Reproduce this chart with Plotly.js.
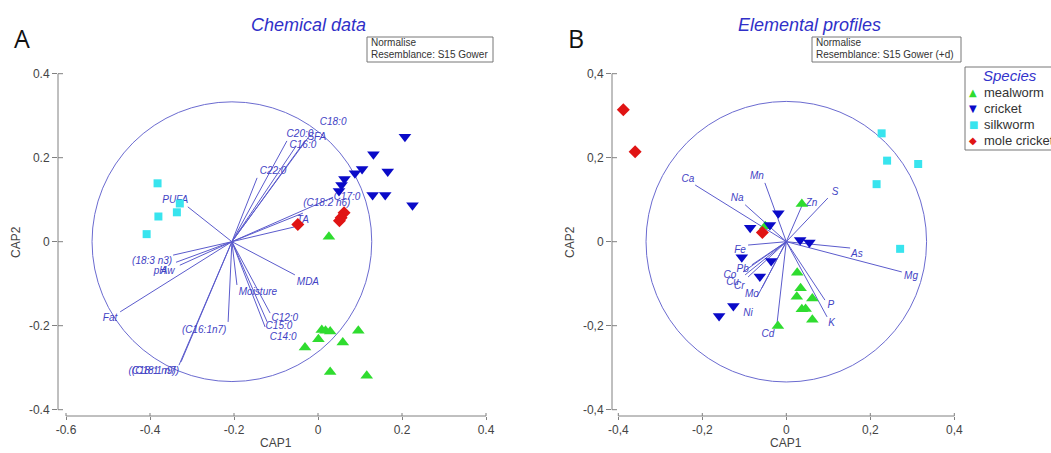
<!DOCTYPE html>
<html>
<head>
<meta charset="utf-8">
<script src="https://cdn.plot.ly/plotly-3.0.1.min.js"></script>
<style>html,body{margin:0;padding:0;background:#fff;}#chart{width:1051px;height:453px;}</style>
</head>
<body>
<div id="chart"></div>
<script>
// ---------- Panel A: chemical data ----------
const mealA_x = [0.026, -0.031, 0.001, 0.009, 0.018, 0.029, 0.059, 0.096, 0.029, 0.116];
const mealA_y = [0.012, -0.252, -0.232, -0.210, -0.212, -0.214, -0.240, -0.212, -0.310, -0.319];
const crickA_x = [0.207, 0.132, 0.166, 0.105, 0.088, 0.063, 0.056, 0.050, 0.130, 0.160, 0.225];
const crickA_y = [0.250, 0.208, 0.167, 0.173, 0.163, 0.149, 0.135, 0.121, 0.111, 0.111, 0.087];
const silkA_x = [-0.382, -0.380, -0.336, -0.329, -0.408];
const silkA_y = [0.139, 0.060, 0.070, 0.091, 0.018];
const moleA_x = [-0.048, 0.062, 0.051, 0.055];
const moleA_y = [0.041, 0.069, 0.050, 0.057];

const vecA_names = ['C18:0','C20:0','SFA','C16:0','C22:0','C17:0','(C18:2 n6)','TA','MDA','Moisture','C12:0','C15:0','C14:0','(C16:1n7)','(C18:1 n9)','(C18:1 n7)','Fat','(18:3 n3)','pH','Aw','PUFA'];
const vecA_x = [-0.019,-0.074,-0.031,-0.052,-0.145,0.036,-0.036,-0.057,-0.055,-0.193,-0.114,-0.121,-0.126,-0.214,-0.331,-0.326,-0.471,-0.345,-0.338,-0.329,-0.310];
const vecA_y = [0.254,0.240,0.240,0.228,0.152,0.106,0.068,0.035,-0.079,-0.103,-0.170,-0.191,-0.203,-0.191,-0.294,-0.286,-0.167,-0.032,-0.049,-0.056,0.083];
const labA_x = [0.036,-0.043,-0.003,-0.036,-0.107,0.069,0.021,-0.036,-0.024,-0.143,-0.079,-0.093,-0.083,-0.271,-0.395,-0.387,-0.495,-0.395,-0.376,-0.358,-0.340];
const labA_y = [0.285,0.256,0.249,0.230,0.168,0.106,0.090,0.050,-0.096,-0.122,-0.182,-0.203,-0.227,-0.212,-0.310,-0.310,-0.182,-0.046,-0.072,-0.072,0.099];
const originA = [-0.205, 0];
const circleA = {cx: -0.205, cy: 0, r: 0.333};

// ---------- Panel B: elemental profiles ----------
const mealB_x = [-0.050, 0.037, 0.026, 0.034, 0.025, 0.062, 0.037, 0.046, 0.062, -0.020];
const mealB_y = [0.037, 0.090, -0.074, -0.111, -0.131, -0.135, -0.161, -0.160, -0.186, -0.201];
const crickB_x = [-0.019, -0.086, -0.039, 0.033, 0.055, -0.106, -0.036, -0.063, -0.126, -0.160];
const crickB_y = [0.068, 0.033, 0.040, 0.004, -0.002, -0.037, -0.046, -0.083, -0.153, -0.177];
const silkB_x = [0.227, 0.240, 0.314, 0.215, 0.271];
const silkB_y = [0.258, 0.193, 0.185, 0.137, -0.017];
const moleB_x = [-0.388, -0.360, -0.057];
const moleB_y = [0.314, 0.214, 0.022];

const vecB_names = ['Ca','Mn','Na','Zn','S','As','Mg','P','K','Cd','Ni','Mo','Cr','Cu','Co','Pb','Fe'];
const vecB_x = [-0.217,-0.051,-0.098,0.040,0.099,0.152,0.275,0.092,0.097,-0.022,-0.070,-0.058,-0.091,-0.098,-0.103,-0.082,-0.091];
const vecB_y = [0.135,0.140,0.088,0.092,0.104,-0.015,-0.072,-0.139,-0.179,-0.194,-0.132,-0.110,-0.084,-0.079,-0.072,-0.055,-0.008];
const labB_x = [-0.234,-0.070,-0.117,0.060,0.116,0.168,0.297,0.106,0.108,-0.044,-0.091,-0.082,-0.112,-0.128,-0.134,-0.104,-0.110];
const labB_y = [0.149,0.156,0.104,0.092,0.118,-0.030,-0.084,-0.153,-0.194,-0.222,-0.170,-0.125,-0.107,-0.096,-0.080,-0.065,-0.020];
const originB = [0, 0];
const circleB = {cx: 0, cy: 0, r: 0.334};

// ---------- ticks / labels ----------
const tickA_x = [-0.6, -0.4, -0.2, 0, 0.2, 0.4];
const tickA_xt = ['-0.6', '-0.4', '-0.2', '0', '0.2', '0.4'];
const tickA_y = [-0.4, -0.2, 0, 0.2, 0.4];
const tickA_yt = ['-0.4', '-0.2', '0', '0.2', '0.4'];
const tickB_x = [-0.4, -0.2, 0, 0.2, 0.4];
const tickB_xt = ['-0,4', '-0,2', '0', '0,2', '0,4'];
const tickB_y = [-0.4, -0.2, 0, 0.2, 0.4];
const tickB_yt = ['-0,4', '-0,2', '0', '0,2', '0,4'];
const species = ['mealworm', 'cricket', 'silkworm', 'mole cricket'];

// ---------- styles ----------
const W = 1051, H = 453;
const px = v => v / W, py = v => 1 - v / H;
const COL = {meal: '#2fdc2f', crick: '#0a0ac8', silk: '#38e4ee', mole: '#e01414'};
const VEC = '#5b5bcc', LAB = '#4242c4', AX = '#808080', TXT = '#444444';
const FONT = 'Liberation Sans, Arial, sans-serif';

function vecTrace(ox, oy, xs, ys, xa, ya) {
  const X = [], Y = [];
  xs.forEach((v, i) => { X.push(ox, v, null); Y.push(oy, ys[i], null); });
  return {x: X, y: Y, xaxis: xa, yaxis: ya, mode: 'lines', type: 'scatter',
    line: {color: VEC, width: 1}, hoverinfo: 'skip', showlegend: false};
}
function labTrace(xs, ys, names, xa, ya) {
  return {x: xs, y: ys, text: names, xaxis: xa, yaxis: ya, mode: 'text', type: 'scatter',
    textposition: 'middle center', cliponaxis: false,
    textfont: {family: FONT, size: 10, color: LAB, style: 'italic'}, hoverinfo: 'skip', showlegend: false};
}
function mk(xs, ys, sym, col, size, xa, ya) {
  return {x: xs, y: ys, xaxis: xa, yaxis: ya, mode: 'markers', type: 'scatter', cliponaxis: false,
    marker: {symbol: sym, color: col, size: size, line: {width: 0}}, showlegend: false};
}

const data = [
  vecTrace(originA[0], originA[1], vecA_x, vecA_y, 'x', 'y'),
  labTrace(labA_x, labA_y, vecA_names, 'x', 'y'),
  mk(mealA_x, mealA_y, 'triangle-up', COL.meal, 11, 'x', 'y'),
  mk(crickA_x, crickA_y, 'triangle-down', COL.crick, 11, 'x', 'y'),
  mk(silkA_x, silkA_y, 'square', COL.silk, 8, 'x', 'y'),
  mk(moleA_x, moleA_y, 'diamond', COL.mole, 10, 'x', 'y'),
  vecTrace(originB[0], originB[1], vecB_x, vecB_y, 'x2', 'y2'),
  labTrace(labB_x, labB_y, vecB_names, 'x2', 'y2'),
  mk(mealB_x, mealB_y, 'triangle-up', COL.meal, 11, 'x2', 'y2'),
  mk(crickB_x, crickB_y, 'triangle-down', COL.crick, 11, 'x2', 'y2'),
  mk(silkB_x, silkB_y, 'square', COL.silk, 8, 'x2', 'y2'),
  mk(moleB_x, moleB_y, 'diamond', COL.mole, 10, 'x2', 'y2')
];

const yDom = [py(416), py(60)];
function axX(dom, range, tv, tt) {
  return {domain: dom, range: range, tickvals: tv, ticktext: tt, ticks: 'outside', ticklen: 3,
    tickcolor: AX, tickwidth: 1, showline: false, showgrid: false, zeroline: false,
    tickfont: {family: FONT, size: 12, color: TXT}, fixedrange: true};
}
function axY(range, tv, tt, anchor) {
  return {domain: yDom, range: range, tickvals: tv, ticktext: tt, ticks: 'outside', ticklen: 5,
    tickcolor: AX, tickwidth: 1, showline: false, showgrid: false, zeroline: false, anchor: anchor,
    tickfont: {family: FONT, size: 12, color: TXT}, fixedrange: true};
}

const shapes = [];
function axesShapes(xr, yr, tx, ty, xmin, xmax, ymin, ymax, c) {
  shapes.push({type: 'line', xref: xr + ' domain', yref: yr, x0: 0, x1: 0, y0: ymin, y1: ymax, line: {color: AX, width: 1}});
  shapes.push({type: 'line', xref: xr, yref: yr + ' domain', x0: xmin, x1: xmax, y0: 0, y1: 0, line: {color: AX, width: 1}});
  tx.forEach(v => shapes.push({type: 'line', xref: xr, yref: yr + ' domain', ysizemode: 'pixel', yanchor: 0,
    x0: v, x1: v, y0: 0, y1: 3, line: {color: AX, width: 1}}));
  ty.forEach(v => shapes.push({type: 'line', xref: xr + ' domain', yref: yr, xsizemode: 'pixel', xanchor: 0,
    x0: 0, x1: 5, y0: v, y1: v, line: {color: AX, width: 1}}));
  shapes.push({type: 'circle', xref: xr, yref: yr, x0: c.cx - c.r, x1: c.cx + c.r, y0: c.cy - c.r, y1: c.cy + c.r,
    line: {color: '#6b6bd0', width: 1}, layer: 'below'});
}
axesShapes('x', 'y', tickA_x, tickA_y, -0.6, 0.4, -0.4, 0.4, circleA);
axesShapes('x2', 'y2', tickB_x, tickB_y, -0.4, 0.4, -0.4, 0.4, circleB);
// info boxes and legend box
shapes.push({type: 'rect', xref: 'paper', yref: 'paper', x0: px(367), x1: px(493), y0: py(62), y1: py(37), line: {color: '#777', width: 1}});
shapes.push({type: 'rect', xref: 'paper', yref: 'paper', x0: px(812), x1: px(961), y0: py(62), y1: py(37), line: {color: '#777', width: 1}});
shapes.push({type: 'rect', xref: 'paper', yref: 'paper', x0: px(965), x1: px(1060), y0: py(150), y1: py(67), line: {color: '#777', width: 1}});

const ann = [];
function A(text, x, y, opts) {
  ann.push(Object.assign({text: text, x: px(x), y: py(y), xref: 'paper', yref: 'paper', showarrow: false,
    xanchor: 'center', yanchor: 'middle', font: {family: FONT, size: 12, color: TXT}}, opts || {}));
}
const TITLE = {family: FONT, size: 18, color: '#3030c8', style: 'italic'};
A('Chemical data', 308, 25, {font: TITLE});
A('Elemental profiles', 809, 25, {font: TITLE});
A('A', 22, 38, {font: {family: 'Open Sans, Liberation Sans, sans-serif', size: 25, color: '#111'}});
A('B', 576, 38, {font: {family: 'Open Sans, Liberation Sans, sans-serif', size: 25, color: '#111'}});
const SMALL = {family: FONT, size: 10, color: '#333'};
A('Normalise', 369, 42.5, {xanchor: 'left', font: SMALL});
A('Resemblance: S15 Gower', 369, 55, {xanchor: 'left', font: SMALL});
A('Normalise', 814, 42.5, {xanchor: 'left', font: SMALL});
A('Resemblance: S15 Gower (+d)', 814, 55, {xanchor: 'left', font: SMALL});
A('CAP1', 276, 443, {});
A('CAP1', 786, 443, {});
A('CAP2', 16, 242, {textangle: -90});
A('CAP2', 570, 242, {textangle: -90});
// legend
A('Species', 1010, 76, {font: {family: FONT, size: 15, color: '#3333cc', style: 'italic'}});
const legSym = ['▲', '▼', '■', '◆'];
const legCol = [COL.meal, COL.crick, COL.silk, COL.mole];
const legY = [92.5, 108.5, 124.5, 140.5];
species.forEach((s, i) => {
  A(legSym[i], 973, legY[i], {font: {family: 'DejaVu Sans, sans-serif', size: 10, color: legCol[i]}});
  A(s, 982, legY[i], {xanchor: 'left', font: {family: FONT, size: 13, color: '#333'}});
});

const layout = {
  width: W, height: H, margin: {l: 0, r: 0, t: 0, b: 0},
  paper_bgcolor: '#fff', plot_bgcolor: 'rgba(0,0,0,0)', showlegend: false,
  xaxis: axX([px(58), px(500)], [-0.619048, 0.433333], tickA_x, tickA_xt),
  yaxis: axY([-0.415, 0.43262], tickA_y, tickA_yt, 'x'),
  xaxis2: Object.assign(axX([px(612), px(960)], [-0.415, 0.41357], tickB_x, tickB_xt), {anchor: 'y2'}),
  yaxis2: axY([-0.415, 0.43262], tickB_y, tickB_yt, 'x2'),
  shapes: shapes, annotations: ann
};
layout.xaxis.anchor = 'y';
Plotly.newPlot('chart', data, layout, {displayModeBar: false, staticPlot: true});
</script>
</body>
</html>
